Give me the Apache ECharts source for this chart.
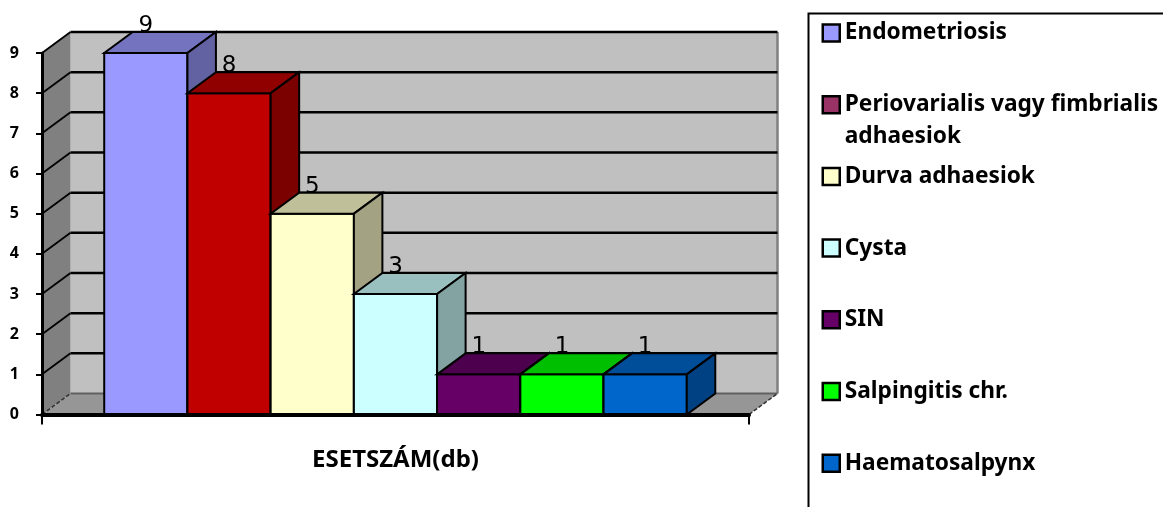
<!DOCTYPE html>
<html>
<head>
<meta charset="utf-8">
<style>html,body{margin:0;padding:0;background:#fff}#chart{width:1163px;height:507px}</style>
<script src="https://cdn.jsdelivr.net/npm/echarts@6/dist/echarts.min.js"></script>
</head>
<body>
<div id="chart"></div>
<script>
// Case counts per diagnosis, drawn as a pseudo-3D column chart.
const axisCategory = ['ESETSZÁM(db)'];
const diagnoses = ['Endometriosis', 'Periovarialis vagy fimbrialis adhaesiok', 'Durva adhaesiok', 'Cysta', 'SIN', 'Salpingitis chr.', 'Haematosalpynx'];
const caseCounts = [9, 8, 5, 3, 1, 1, 1];
const barColors = ['#9999FF', '#C00000', '#FFFFCC', '#CCFFFF', '#660066', '#00FF00', '#0066CC'];
const legendColors = ['#9999FF', '#993366', '#FFFFCC', '#CCFFFF', '#660066', '#00FF00', '#0066CC'];
const yTicks = [0, 1, 2, 3, 4, 5, 6, 7, 8, 9];

// Oblique projection of the depth axis, and shading of the extruded faces.
const DEPTH_X = 28.5, DEPTH_Y = -21;
const BAND_FILL = 0.824;
const FONT = '"Noto Sans", sans-serif';
const VALUE_FONT = '"DejaVu Sans", sans-serif';
const LEGEND_LEFT = 821.5, LEGEND_FIRST = 33, LEGEND_STEP = 71.7, LEGEND_LINE = 32;

function shade(hex, k) {
  const n = parseInt(hex.slice(1), 16);
  const c = [n >> 16, (n >> 8) & 255, n & 255].map(v => Math.round(v * k));
  return 'rgb(' + c.join(',') + ')';
}
function poly(points, fill, stroke, width) {
  return { type: 'polygon', shape: { points }, style: { fill, stroke: stroke || null, lineWidth: width || 0 } };
}
function seg(a, b, stroke, width, dash) {
  return { type: 'line', shape: { x1: a[0], y1: a[1], x2: b[0], y2: b[1] },
    style: { stroke, lineWidth: width, lineDash: dash || null, fill: null } };
}
const back = p => [p[0] + DEPTH_X, p[1] + DEPTH_Y];

// Floor, side wall and back wall with their gridlines.
function renderWalls(params, api) {
  const v = api.value(1);
  const band = api.size([1, 0])[0];
  const mid = api.coord([0, v]);
  const l = [mid[0] - band / 2, mid[1]];
  const r = [mid[0] + band / 2, mid[1]];
  const kids = [];
  if (params.dataIndex === 0) {
    const top = api.coord([0, yTicks[yTicks.length - 1]])[1];
    const lt = [l[0], top], rt = [r[0], top];
    kids.push(poly([back(l), back(r), back(rt), back(lt)], '#C0C0C0'));
    kids.push(poly([l, back(l), back(lt), lt], '#808080'));
    kids.push(poly([l, r, back(r), back(l)], '#969696'));
    kids.push(seg(back(r), back(rt), '#808080', 2.5));
    kids.push(seg(back(l), back(r), '#606060', 2.2));
    kids.push(seg(l, back(l), '#303030', 1.5, [4, 2]));
    kids.push(seg(r, back(r), '#303030', 1.5, [4, 2]));
  } else {
    kids.push(seg(back(l), back(r), '#000', 2.5));
    kids.push(seg(l, back(l), '#000', 1.8));
  }
  return { type: 'group', children: kids };
}

// One extruded column with its value above the top face.
function renderColumn(index) {
  return function (params, api) {
    const v = api.value(1);
    const band = api.size([1, 0])[0];
    const base = api.coord([0, 0]);
    const head = api.coord([0, v]);
    const w = band * BAND_FILL / diagnoses.length;
    const x0 = base[0] - w * diagnoses.length / 2 + index * w;
    const x1 = x0 + w;
    const a = [x0, head[1]], b = [x1, head[1]], c = [x1, base[1]], d = [x0, base[1]];
    const col = barColors[index];
    return {
      type: 'group',
      children: [
        poly([d, c, b, a], col, '#000', 2),
        poly([a, b, back(b), back(a)], shade(col, 0.75), '#000', 2),
        poly([b, c, back(c), back(b)], shade(col, 0.64), '#000', 2),
        { type: 'text', x: (x0 + x1) / 2, y: head[1] + DEPTH_Y - 6,
          style: { text: String(v), fontFamily: VALUE_FONT, fontSize: 23, fill: '#000', align: 'center', verticalAlign: 'middle' } }
      ]
    };
  };
}

const series = [{
  type: 'custom', name: 'walls', z: 1, silent: true, animation: false,
  data: yTicks.map(v => [0, v]), encode: { x: 0, y: 1 }, renderItem: renderWalls
}].concat(diagnoses.map((name, i) => ({
  type: 'custom', name, z: 2 + i, animation: false, silent: true,
  data: [[0, caseCounts[i]]], encode: { x: 0, y: 1 }, renderItem: renderColumn(i),
  itemStyle: { color: barColors[i] }
})));

// Legend rows are evenly spaced by their first line; a wrapped row keeps its
// marker on the first line by padding the text with a blank line above.
const wrapped = { 'Periovarialis vagy fimbrialis adhaesiok': '\nPeriovarialis vagy fimbrialis\nadhaesiok' };
const legends = diagnoses.map((name, i) => {
  const lines = wrapped[name] ? 3 : 1;
  return {
    show: true, orient: 'vertical', left: LEGEND_LEFT, padding: 0,
    top: LEGEND_FIRST + i * LEGEND_STEP - Math.max(17, lines * LEGEND_LINE) / 2,
    itemWidth: 17, itemHeight: 17, selectedMode: false,
    data: [{ name, icon: 'rect', itemStyle: { color: legendColors[i], borderColor: '#000', borderWidth: 2.5 } }],
    formatter: n => wrapped[n] || n,
    textStyle: { fontFamily: FONT, fontWeight: 'bold', fontSize: 22.7, color: '#000', lineHeight: LEGEND_LINE }
  };
});

echarts.init(document.getElementById('chart'), null, { renderer: 'canvas' }).setOption({
  animation: false,
  backgroundColor: '#fff',
  grid: { left: 42, width: 707, top: 53, height: 361.5 },
  xAxis: {
    type: 'category', data: axisCategory, z: 30,
    axisLine: { lineStyle: { color: '#000', width: 4 } },
    axisTick: { show: true, length: 10, lineStyle: { color: '#000', width: 2 } },
    axisLabel: { fontFamily: FONT, fontWeight: 'bold', fontSize: 24, color: '#000', margin: 34 }
  },
  yAxis: {
    type: 'value', min: 0, max: 9, interval: 1, z: 30,
    splitLine: { show: false },
    axisLine: { show: true, lineStyle: { color: '#000', width: 3 } },
    axisTick: { show: true, length: 6, lineStyle: { color: '#000', width: 2 } },
    axisLabel: { fontFamily: FONT, fontWeight: 'bold', fontSize: 16, color: '#000', margin: 23 }
  },
  legend: legends,
  graphic: [{
    type: 'rect', x: 808.5, y: 13.5, shape: { width: 500, height: 600 },
    style: { fill: 'none', stroke: '#000', lineWidth: 2 }, silent: true
  }],
  series
});
</script>
</body>
</html>
